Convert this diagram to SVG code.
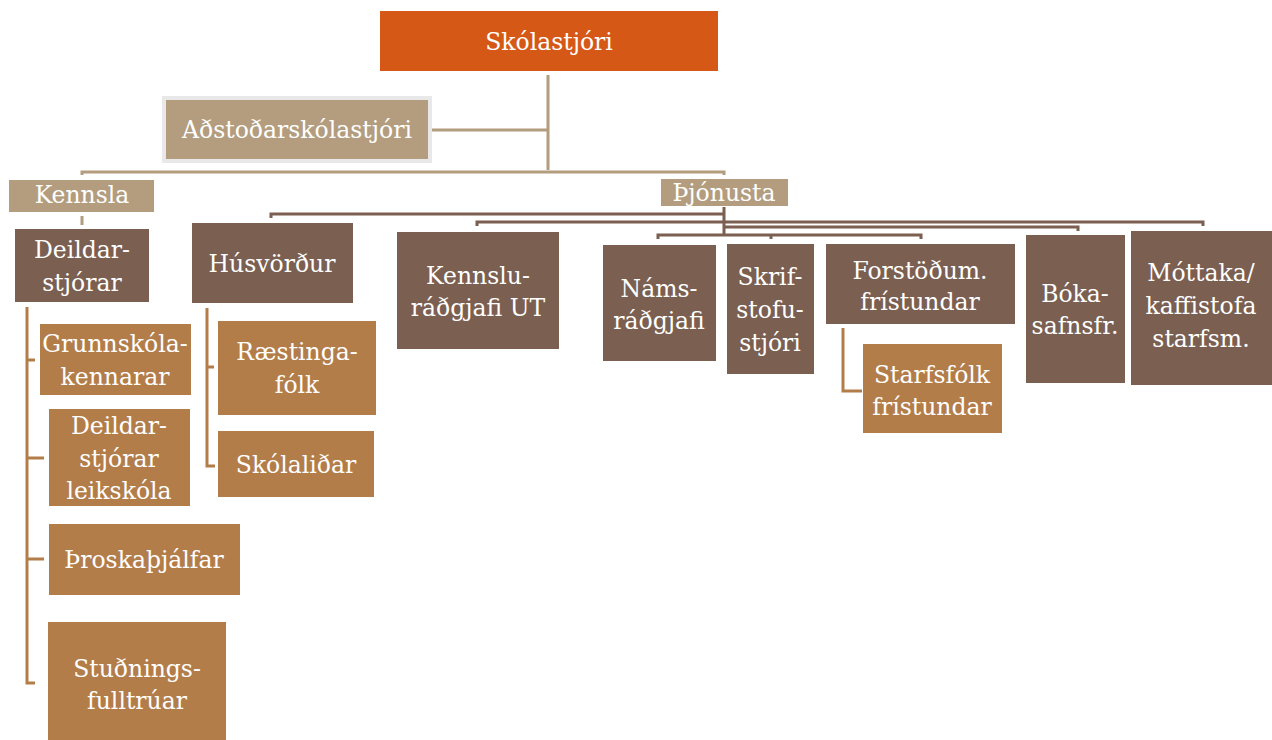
<svg xmlns="http://www.w3.org/2000/svg" width="1272" height="740" viewBox="0 0 1272 740">
<style>
text{font-family:'DejaVu Serif','Liberation Serif',serif;font-size:23.5px;fill:#FFFFFF;text-anchor:middle}
.top{fill:#D55817}
.tan{fill:#B39D7E}
.dark{fill:#7B5F51}
.lite{fill:#B37D4A}
.ct{stroke:#B39D7E;stroke-width:3;fill:none}
.cd{stroke:#7B5F51;stroke-width:3;fill:none}
.cl{stroke:#B37D4A;stroke-width:3;fill:none}
</style>
<rect width="1272" height="740" fill="#FFFFFF"/>
<g id="connectors">
<path class="ct" d="M548 75V170M432 130H548M82 175V172H724V175M82 216V225"/>
<path class="cd" d="M724 207V236M271 218V214H724M477 226V222H1203V226M724 227H1078V231M658 239V235H921V239M771 235V239"/>
<path class="cl" d="M27 307V683H35M27 360H35M27 458H44M27 559H44M207 308V466H215M207 367H214M843 328V391H862"/>
</g>
<g id="n-skolastjori"><rect class="top" x="380" y="11" width="338" height="60"/><text x="549" y="50">Skólastjóri</text></g>
<g id="n-adstodar"><rect x="162" y="96" width="270" height="67" fill="#E8E8E8"/><rect class="tan" x="166" y="100" width="262" height="59"/><text x="297" y="138">Aðstoðarskólastjóri</text></g>
<g id="n-kennsla"><rect class="tan" x="9" y="180" width="145" height="32"/><text x="82" y="203">Kennsla</text></g>
<g id="n-thjonusta"><rect class="tan" x="661" y="179" width="127" height="27"/><text x="724" y="201">Þjónusta</text></g>
<g id="n-deildarstjorar"><rect class="dark" x="15" y="229" width="134" height="73"/><text x="82" y="258">Deildar-</text><text x="82" y="291">stjórar</text></g>
<g id="n-grunnskola"><rect class="lite" x="40" y="324" width="151" height="71"/><text x="115" y="352">Grunnskóla-</text><text x="115" y="385">kennarar</text></g>
<g id="n-deildleik"><rect class="lite" x="49" y="409" width="141" height="97"/><text x="119" y="434">Deildar-</text><text x="119" y="467">stjórar</text><text x="119" y="499">leikskóla</text></g>
<g id="n-throska"><rect class="lite" x="49" y="524" width="191" height="71"/><text x="144" y="568">Þroskaþjálfar</text></g>
<g id="n-studnings"><rect class="lite" x="48" y="622" width="178" height="118"/><text x="137" y="677">Stuðnings-</text><text x="137" y="709">fulltrúar</text></g>
<g id="n-husvordur"><rect class="dark" x="192" y="223" width="161" height="80"/><text x="272" y="272">Húsvörður</text></g>
<g id="n-raestinga"><rect class="lite" x="218" y="321" width="158" height="94"/><text x="297" y="360">Ræstinga-</text><text x="297" y="393">fólk</text></g>
<g id="n-skolalidar"><rect class="lite" x="218" y="431" width="156" height="66"/><text x="296" y="473">Skólaliðar</text></g>
<g id="n-kennsluradgjafi"><rect class="dark" x="397" y="232" width="162" height="117"/><text x="478" y="284">Kennslu-</text><text x="478" y="316">ráðgjafi UT</text></g>
<g id="n-namsradgjafi"><rect class="dark" x="603" y="245" width="113" height="116"/><text x="659" y="297">Náms-</text><text x="659" y="329">ráðgjafi</text></g>
<g id="n-skrifstofu"><rect class="dark" x="727" y="244" width="87" height="130"/><text x="770" y="285">Skrif-</text><text x="770" y="318">stofu-</text><text x="770" y="351">stjóri</text></g>
<g id="n-forstodum"><rect class="dark" x="826" y="244" width="189" height="80"/><text x="920" y="279">Forstöðum.</text><text x="920" y="310">frístundar</text></g>
<g id="n-starfsfolk"><rect class="lite" x="863" y="344" width="139" height="89"/><text x="932" y="383">Starfsfólk</text><text x="932" y="415">frístundar</text></g>
<g id="n-bokasafn"><rect class="dark" x="1026" y="235" width="99" height="148"/><text x="1075" y="302">Bóka-</text><text x="1075" y="334">safnsfr.</text></g>
<g id="n-mottaka"><rect class="dark" x="1131" y="231" width="141" height="154"/><text x="1201" y="281">Móttaka/</text><text x="1201" y="314">kaffistofa</text><text x="1201" y="347">starfsm.</text></g>
</svg>
